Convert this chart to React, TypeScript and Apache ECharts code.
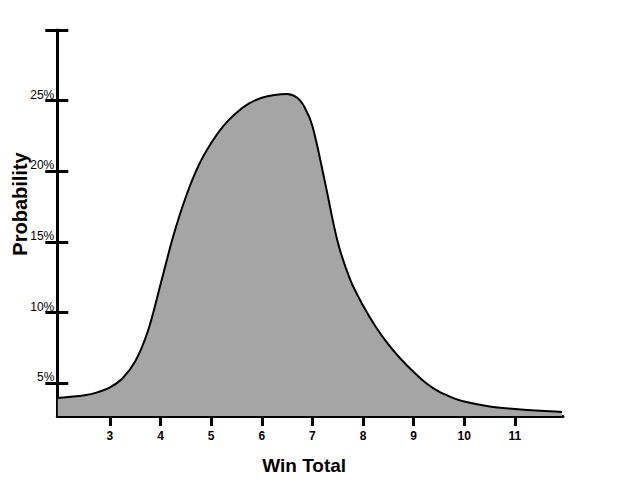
import React, { useEffect, useRef } from "react";
import * as echarts from "echarts";

// Win total (x) and probability in percent (y)
const winTotals = [1.97, 2.5, 2.75, 3.0, 3.25, 3.5, 3.75, 4.0, 4.25, 4.5, 4.75, 5.0, 5.25, 5.5, 5.75, 6.0, 6.25, 6.5, 6.7, 6.85, 7.0, 7.25, 7.5, 7.75, 8.0, 8.25, 8.5, 8.75, 9.0, 9.25, 9.5, 9.75, 10.0, 10.5, 11.0, 11.5, 11.93];
const probabilities = [3.96, 4.15, 4.35, 4.7, 5.35, 6.55, 8.7, 12.0, 15.4, 18.2, 20.4, 22.0, 23.25, 24.15, 24.8, 25.2, 25.4, 25.47, 25.2, 24.5, 23.2, 19.2, 15.0, 12.3, 10.5, 9.0, 7.75, 6.7, 5.8, 5.0, 4.4, 4.0, 3.7, 3.35, 3.18, 3.05, 2.97];

const xTicks = [3, 4, 5, 6, 7, 8, 9, 10, 11];
const yTicks = [5, 10, 15, 20, 25, 30];
const yLabels = [5, 10, 15, 20, 25];

const X_MIN = 1.96;
const X_MAX = 11.95;
const Y_MIN = 2.68;
const Y_MAX = 30;

const FONT = "'Liberation Sans', Arial, sans-serif";

export default function App() {
  const ref = useRef<HTMLDivElement>(null);

  useEffect(() => {
    document.body.style.margin = "0";
    const chart = echarts.init(ref.current!, null, { renderer: "svg" });
    const axisLine = { show: true, onZero: false, lineStyle: { color: "#000", width: 3 } };
    chart.setOption({
      animation: false,
      backgroundColor: "#fff",
      grid: {
        left: 57.3,
        right: 57,
        top: 30,
        bottom: 80,
        containLabel: false,
        outerBoundsMode: "none",
      },
      xAxis: [
        {
          type: "value",
          min: X_MIN,
          max: X_MAX,
          position: "bottom",
          offset: 0,
          axisLine,
          splitLine: { show: false },
          axisTick: {
            show: true,
            inside: false,
            length: 10,
            customValues: xTicks,
            lineStyle: { color: "#000", width: 3 },
          },
          axisLabel: {
            show: true,
            customValues: xTicks,
            margin: 14,
            color: "#000",
            fontSize: 12,
            fontWeight: "bold",
            fontFamily: FONT,
          },
          name: "Win Total",
          nameLocation: "middle",
          nameGap: 40,
          nameMoveOverlap: false,
          nameTextStyle: {
            color: "#000",
            fontSize: 19,
            fontWeight: "bold",
            fontFamily: FONT,
            padding: [0, 12, 0, 0],
          },
        },
        {
          type: "value",
          min: X_MIN,
          max: X_MAX,
          position: "bottom",
          offset: 0,
          axisLine: { show: false, onZero: false },
          splitLine: { show: false },
          axisTick: {
            show: true,
            inside: true,
            length: 8,
            customValues: xTicks,
            lineStyle: { color: "#000", width: 3 },
          },
          axisLabel: { show: false },
        },
      ],
      yAxis: [
        {
          type: "value",
          min: Y_MIN,
          max: Y_MAX,
          position: "left",
          offset: 0,
          axisLine,
          splitLine: { show: false },
          axisTick: {
            show: true,
            inside: false,
            length: 12,
            customValues: yTicks,
            lineStyle: { color: "#000", width: 3 },
          },
          axisLabel: {
            show: true,
            customValues: yLabels,
            margin: 3,
            verticalAlign: "bottom",
            color: "#000",
            fontSize: 12,
            fontFamily: FONT,
            formatter: (v: number) => `${v}%`,
          },
          name: "Probability",
          nameLocation: "middle",
          nameGap: 27,
          nameRotate: 90,
          nameMoveOverlap: false,
          nameTextStyle: {
            color: "#000",
            fontSize: 20,
            fontWeight: "bold",
            fontFamily: FONT,
            padding: [0, 0, 0, 38],
          },
        },
        {
          type: "value",
          min: Y_MIN,
          max: Y_MAX,
          position: "left",
          offset: 0,
          axisLine: { show: false, onZero: false },
          splitLine: { show: false },
          axisTick: {
            show: true,
            inside: true,
            length: 11,
            customValues: yTicks,
            lineStyle: { color: "#000", width: 3 },
          },
          axisLabel: { show: false },
        },
      ],
      series: [
        {
          type: "line",
          xAxisIndex: 0,
          yAxisIndex: 0,
          data: winTotals.map((x, i) => [x, probabilities[i]]),
          smooth: 0.35,
          showSymbol: false,
          symbol: "none",
          lineStyle: { color: "#000", width: 2 },
          areaStyle: { color: "#a5a5a5", opacity: 1, origin: "start" },
          z: 1,
        },
      ],
    });
    return () => chart.dispose();
  }, []);

  return <div ref={ref} style={{ width: 620, height: 496 }} />;
}
